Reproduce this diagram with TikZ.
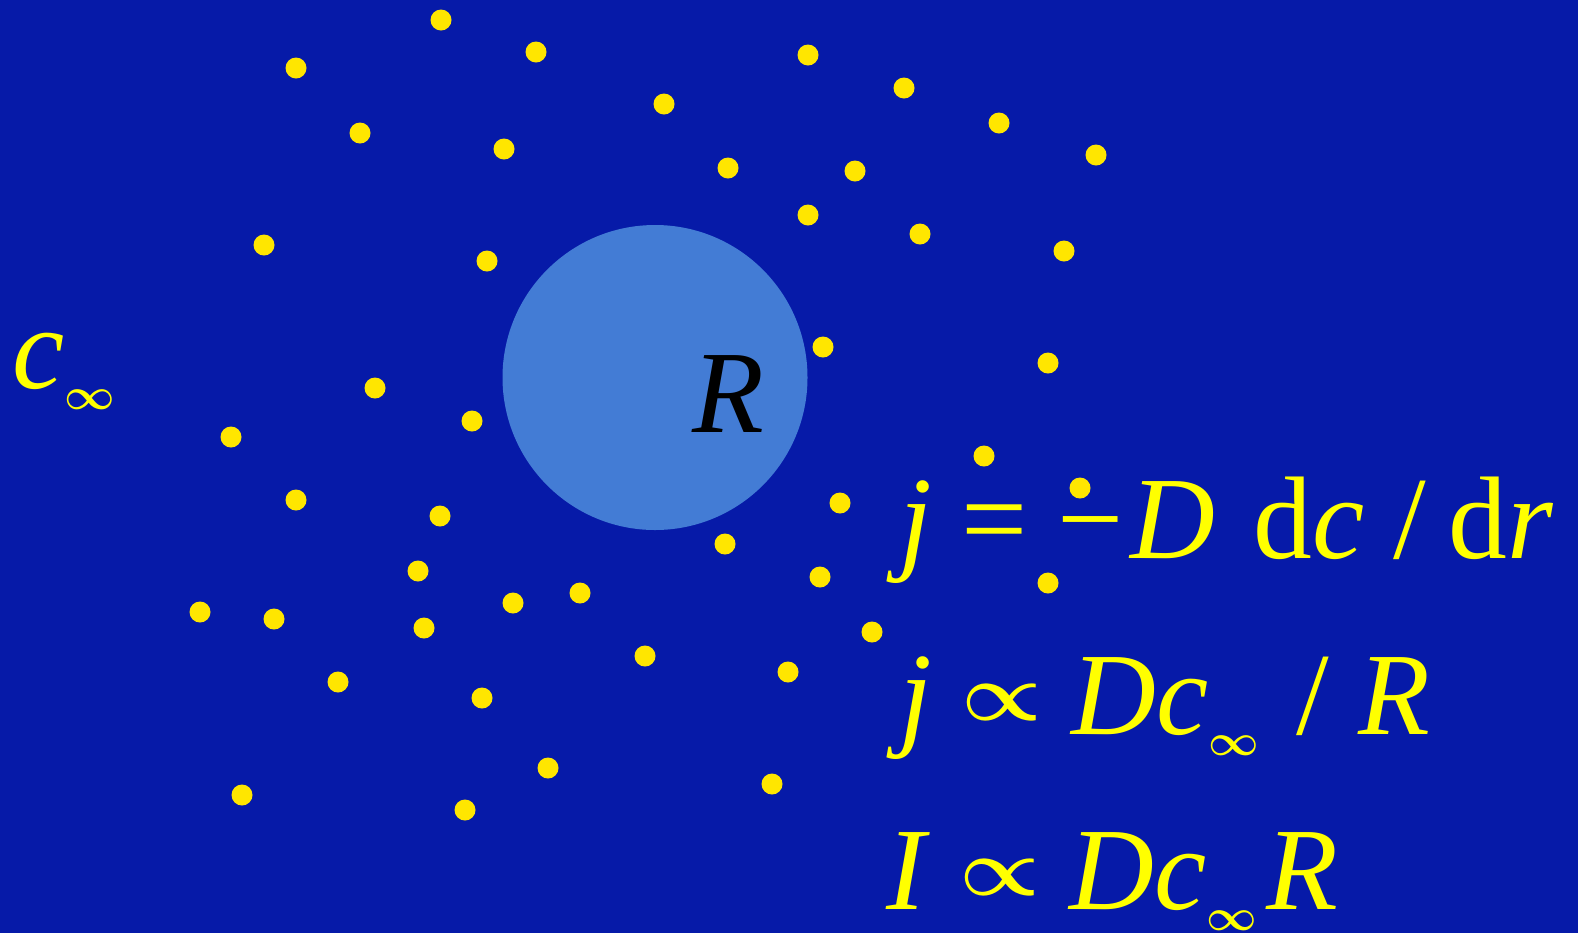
\RequirePackage{fix-cm}
\documentclass[tikz,border=0pt]{standalone}
\usepackage{fontspec}
\usepackage{graphicx}
\setmainfont{Liberation Serif}
\usepackage{tikz}
\definecolor{bgblue}{HTML}{061AA8}
\definecolor{dropblue}{HTML}{437CD5}
\definecolor{ptyellow}{HTML}{FFE600}
\definecolor{eqyellow}{HTML}{FFFF00}
\newcommand{\infsub}{\raisebox{-10.5pt}{\fontsize{22pt}{26pt}\selectfont\boldmath$\infty$}}
\newcommand{\prop}{\raisebox{7pt}{\scalebox{1}[0.9]{\fontsize{45pt}{54pt}\selectfont\boldmath$\propto$}}}
\tikzstyle{ptcl}=[circle,fill=ptyellow,minimum size=10.5pt,inner sep=0pt]
\tikzstyle{drop}=[circle,fill=dropblue,minimum size=152.5pt,inner sep=0pt]
\tikzstyle{eqn}=[text=eqyellow,anchor=base west,inner sep=0pt,font=\fontsize{58.75pt}{70pt}\selectfont]
\begin{document}
\begin{tikzpicture}[x=0.5pt,y=-0.5pt]
    \fill[bgblue] (0,0) rectangle (1578,933);
    \useasboundingbox (0,0) rectangle (1578,933);
    \node[drop] (sphere) at (655,377.5) {};
    \foreach \x/\y [count=\i] in {441/20,296/68,536/52,808/55,904/88,664/104,360/133,
        504/149,999/123,1096/155,728/168,855/171,808/215,920/234,264/245,487/261,
        1064/251,823/347,1048/363,375/388,472/421,231/437,984/456,1080/488,296/500,
        440/516,840/503,725/544,418/571,820/577,1048/583,513/603,580/593,200/612,
        274/619,424/628,872/632,645/656,338/682,482/698,788/672,548/768,772/784,
        242/795,465/810}
        \node[ptcl] (p\i) at (\x,\y) {};
    \node[eqn,text=black] (radius) at (692,432) {\textit{R}};
    \node[eqn] (cinf) at (12,388) {\textit{c}\infsub};
    \node[eqn] (fick) at (899,558) {\textit{j} = −\kern3.5pt\textit{D}\hspace{4.5pt} d\textit{c} / \hspace{-3.5pt}d\textit{r}};
    \node[eqn] (flux) at (899,734) {\textit{j} \prop{} \textit{Dc}\infsub\hspace{4pt} / \textit{R}};
    \node[eqn] (current) at (886,909) {\textit{I} \prop{} \textit{Dc}\infsub\kern5pt\textit{R}};
\end{tikzpicture}
\end{document}
